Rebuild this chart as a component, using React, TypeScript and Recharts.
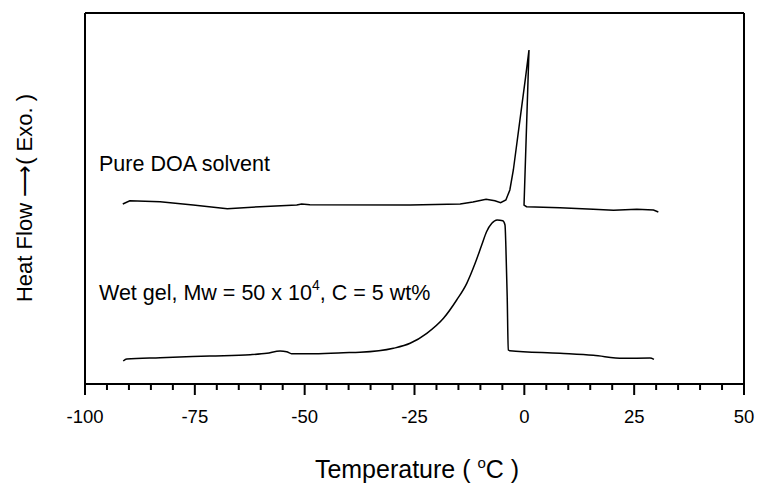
import React from "react"
import { LineChart, Line, XAxis, YAxis, ReferenceLine, Customized } from "recharts"

// Temperature (°C) vs heat flow (arbitrary units, exo up)
const pureTemp = [-91.4, -89.8, -82.9, -75.4, -67.6, -60.2, -51.8, -50.7, -48.8, -26.0, -14.6, -11.7, -8.7, -6.7, -5.4, -4.2, -3.3, -2.5, -1.6, -0.6, 0.3, 1.06, -0.07, 0.5, 8.1, 15.7, 20.3, 25.6, 29.4, 30.5]
const pureFlow = [180, 183.3, 182.3, 179, 175.3, 177.3, 179, 180, 179.3, 179, 180, 182, 184.7, 183.3, 181.3, 184, 194, 214, 244, 277.3, 307.3, 334, 179, 177.3, 176.3, 174.7, 173.7, 174.7, 174, 172]

const gelTemp = [-91.3, -90.5, -82.9, -71.6, -62.4, -58.6, -55.6, -54.1, -53.0, -48.8, -41.2, -37.4, -29.8, -26.0, -22.2, -18.4, -15.4, -13.1, -11.2, -9.7, -8.6, -7.4, -6.2, -4.9, -4.4, -4.2, -3.9, -3.65, -3.3, 8.1, 15.7, 22.5, 28.6, 29.5]
const gelFlow = [23, 25, 26.3, 28, 29.3, 30.7, 33, 32.3, 30.3, 30.3, 31.3, 31.7, 35.7, 40.7, 50.7, 65.7, 84, 100.7, 120.7, 139, 152.3, 160.7, 164, 163.3, 159, 137.3, 87.3, 34, 33.3, 30.7, 28.7, 25.7, 26, 24.7]

const xTicks = [-100, -95, -90, -85, -80, -75, -70, -65, -60, -55, -50, -45, -40, -35, -30, -25, -20, -15, -10, -5, 0, 5, 10, 15, 20, 25, 30, 35, 40, 45, 50]
const xLabels = [-100, -75, -50, -25, 0, 25, 50]

const pureData = pureTemp.map((t, i) => ({ t, v: pureFlow[i] }))
const gelData = gelTemp.map((t, i) => ({ t, v: gelFlow[i] }))

const FONT = "'Liberation Sans', Arial, sans-serif"

function Tick(props: any) {
  const { x, y, payload } = props
  const major = xLabels.includes(payload.value)
  return (
    <g>
      <line x1={x} y1={y} x2={x} y2={y + (major ? 11 : 6)} stroke="#000" strokeWidth={2} />
      {major && (
        <text x={x} y={y + 39} textAnchor="middle" fontSize={18.5} fontFamily={FONT} fill="#000">
          {payload.value}
        </text>
      )}
    </g>
  )
}

function Annotations() {
  return (
    <g fontFamily={FONT} fill="#000">
      <text x={99} y={171} fontSize={21.5}>Pure DOA solvent</text>
      <text x={99} y={300} fontSize={21.5}>
        Wet gel, Mw = 50 x 10<tspan dy={-10} fontSize={14}>4</tspan>
        <tspan dy={10}>, C = 5 wt%</tspan>
      </text>
      <text x={417} y={478} fontSize={25} textAnchor="middle">
        Temperature ( <tspan dy={-10} fontSize={15}>o</tspan><tspan dy={10}>C )</tspan>
      </text>
      <text x={32} y={198} fontSize={22} textAnchor="middle" transform="rotate(-90 32 198)">
        Heat Flow ⟶( Exo. )
      </text>
    </g>
  )
}

export default function App() {
  return (
    <div style={{ position: "absolute", left: 0, top: 0, background: "#fff" }}>
      <LineChart width={759} height={483} margin={{ top: 13, right: 15, left: 0, bottom: 59 }}>
        <XAxis
          type="number"
          dataKey="t"
          domain={[-100, 50]}
          ticks={xTicks}
          interval={0}
          tick={<Tick />}
          tickLine={false}
          tickSize={0}
          tickMargin={0}
          height={40}
          axisLine={{ stroke: "#000", strokeWidth: 2 }}
        />
        <YAxis
          type="number"
          domain={[0, 371]}
          width={85}
          tick={false}
          tickLine={false}
          axisLine={{ stroke: "#000", strokeWidth: 2 }}
        />
        <ReferenceLine y={371} stroke="#000" strokeWidth={2} />
        <ReferenceLine x={50} stroke="#000" strokeWidth={2} />
        <Line data={pureData} dataKey="v" type="linear" stroke="#000" strokeWidth={1.5} dot={false} isAnimationActive={false} />
        <Line data={gelData} dataKey="v" type="monotoneX" stroke="#000" strokeWidth={1.5} dot={false} isAnimationActive={false} />
        <Customized component={Annotations} />
      </LineChart>
    </div>
  )
}
